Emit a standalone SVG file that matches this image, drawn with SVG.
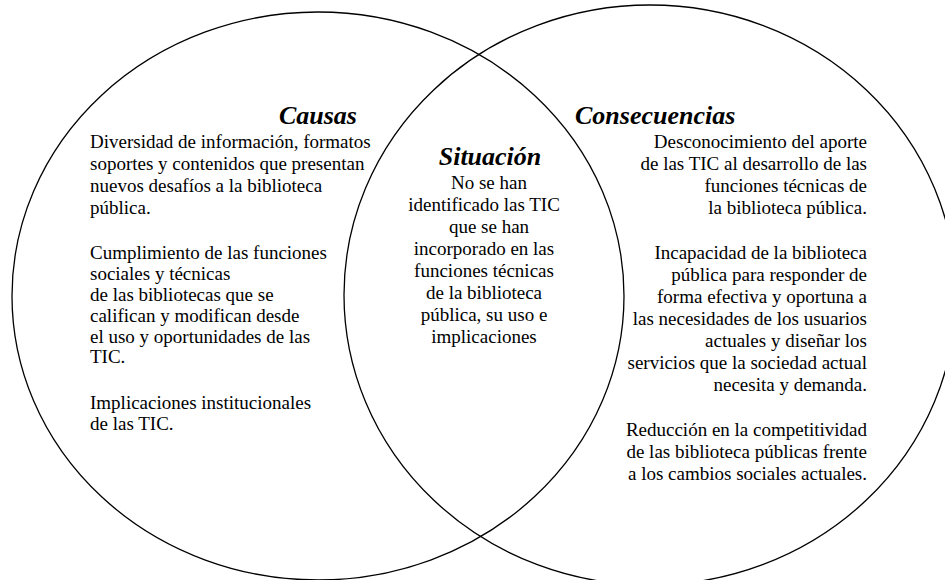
<svg xmlns="http://www.w3.org/2000/svg" width="945" height="580" viewBox="0 0 945 580">
<style>
svg text, g text, #causas text, #consecuencias text, #situacion text {font-family:'Liberation Serif',serif !important}
.ring{fill:none;stroke:#000;stroke-width:1.3}
.h{font-size:26px;font-weight:bold;font-style:italic}
.t{font-size:19px}
</style>
<rect width="945" height="580" fill="#fff"/>
<g id="causas" font-family="Liberation Serif" fill="#000">
<ellipse class="ring" cx="318" cy="296" rx="306" ry="284"/>
<text class="h" style="font-family:'Liberation Serif',serif !important" x="357" y="124" text-anchor="end">Causas</text>
<text class="t" style="font-family:'Liberation Serif',serif !important" x="90" y="148">Diversidad de información, formatos</text>
<text class="t" style="font-family:'Liberation Serif',serif !important" x="90" y="170">soportes y contenidos que presentan</text>
<text class="t" style="font-family:'Liberation Serif',serif !important" x="90" y="192">nuevos desafíos a la biblioteca</text>
<text class="t" style="font-family:'Liberation Serif',serif !important" x="90" y="214">pública.</text>
<text class="t" style="font-family:'Liberation Serif',serif !important" x="90" y="259">Cumplimiento de las funciones</text>
<text class="t" style="font-family:'Liberation Serif',serif !important" x="90" y="280">sociales y técnicas</text>
<text class="t" style="font-family:'Liberation Serif',serif !important" x="90" y="301">de las bibliotecas que se</text>
<text class="t" style="font-family:'Liberation Serif',serif !important" x="90" y="322">califican y modifican desde</text>
<text class="t" style="font-family:'Liberation Serif',serif !important" x="90" y="343">el uso y oportunidades de las</text>
<text class="t" style="font-family:'Liberation Serif',serif !important" x="90" y="363">TIC.</text>
<text class="t" style="font-family:'Liberation Serif',serif !important" x="90" y="409">Implicaciones institucionales</text>
<text class="t" style="font-family:'Liberation Serif',serif !important" x="90" y="430">de las TIC.</text>
</g>
<g id="consecuencias" font-family="Liberation Serif" fill="#000">
<ellipse class="ring" cx="650" cy="295" rx="306" ry="290"/>
<text class="h" style="font-family:'Liberation Serif',serif !important" x="575" y="124">Consecuencias</text>
<g text-anchor="end">
<text class="t" style="font-family:'Liberation Serif',serif !important" x="867" y="148">Desconocimiento del aporte</text>
<text class="t" style="font-family:'Liberation Serif',serif !important" x="867" y="170">de las TIC al desarrollo de las</text>
<text class="t" style="font-family:'Liberation Serif',serif !important" x="867" y="192">funciones técnicas de</text>
<text class="t" style="font-family:'Liberation Serif',serif !important" x="867" y="214">la biblioteca pública.</text>
<text class="t" style="font-family:'Liberation Serif',serif !important" x="867" y="259">Incapacidad de la biblioteca</text>
<text class="t" style="font-family:'Liberation Serif',serif !important" x="867" y="281">pública para responder de</text>
<text class="t" style="font-family:'Liberation Serif',serif !important" x="867" y="303">forma efectiva y oportuna a</text>
<text class="t" style="font-family:'Liberation Serif',serif !important" x="867" y="325">las necesidades de los usuarios</text>
<text class="t" style="font-family:'Liberation Serif',serif !important" x="867" y="347">actuales y diseñar los</text>
<text class="t" style="font-family:'Liberation Serif',serif !important" x="867" y="369">servicios que la sociedad actual</text>
<text class="t" style="font-family:'Liberation Serif',serif !important" x="867" y="391">necesita y demanda.</text>
<text class="t" style="font-family:'Liberation Serif',serif !important" x="867" y="436">Reducción en la competitividad</text>
<text class="t" style="font-family:'Liberation Serif',serif !important" x="867" y="458">de las biblioteca públicas frente</text>
<text class="t" style="font-family:'Liberation Serif',serif !important" x="867" y="480">a los cambios sociales actuales.</text>
</g>
</g>
<g id="situacion" font-family="Liberation Serif" fill="#000" text-anchor="middle">
<text class="h" style="font-family:'Liberation Serif',serif !important" x="490" y="165">Situación</text>
<text class="t" style="font-family:'Liberation Serif',serif !important" x="489" y="189">No se han</text>
<text class="t" style="font-family:'Liberation Serif',serif !important" x="484" y="211">identificado las TIC</text>
<text class="t" style="font-family:'Liberation Serif',serif !important" x="489" y="233">que se han</text>
<text class="t" style="font-family:'Liberation Serif',serif !important" x="484" y="255">incorporado en las</text>
<text class="t" style="font-family:'Liberation Serif',serif !important" x="484" y="277">funciones técnicas</text>
<text class="t" style="font-family:'Liberation Serif',serif !important" x="484" y="299">de la biblioteca</text>
<text class="t" style="font-family:'Liberation Serif',serif !important" x="484" y="321">pública, su uso e</text>
<text class="t" style="font-family:'Liberation Serif',serif !important" x="484" y="343">implicaciones</text>
</g>
<g id="connectors"></g>
</svg>
